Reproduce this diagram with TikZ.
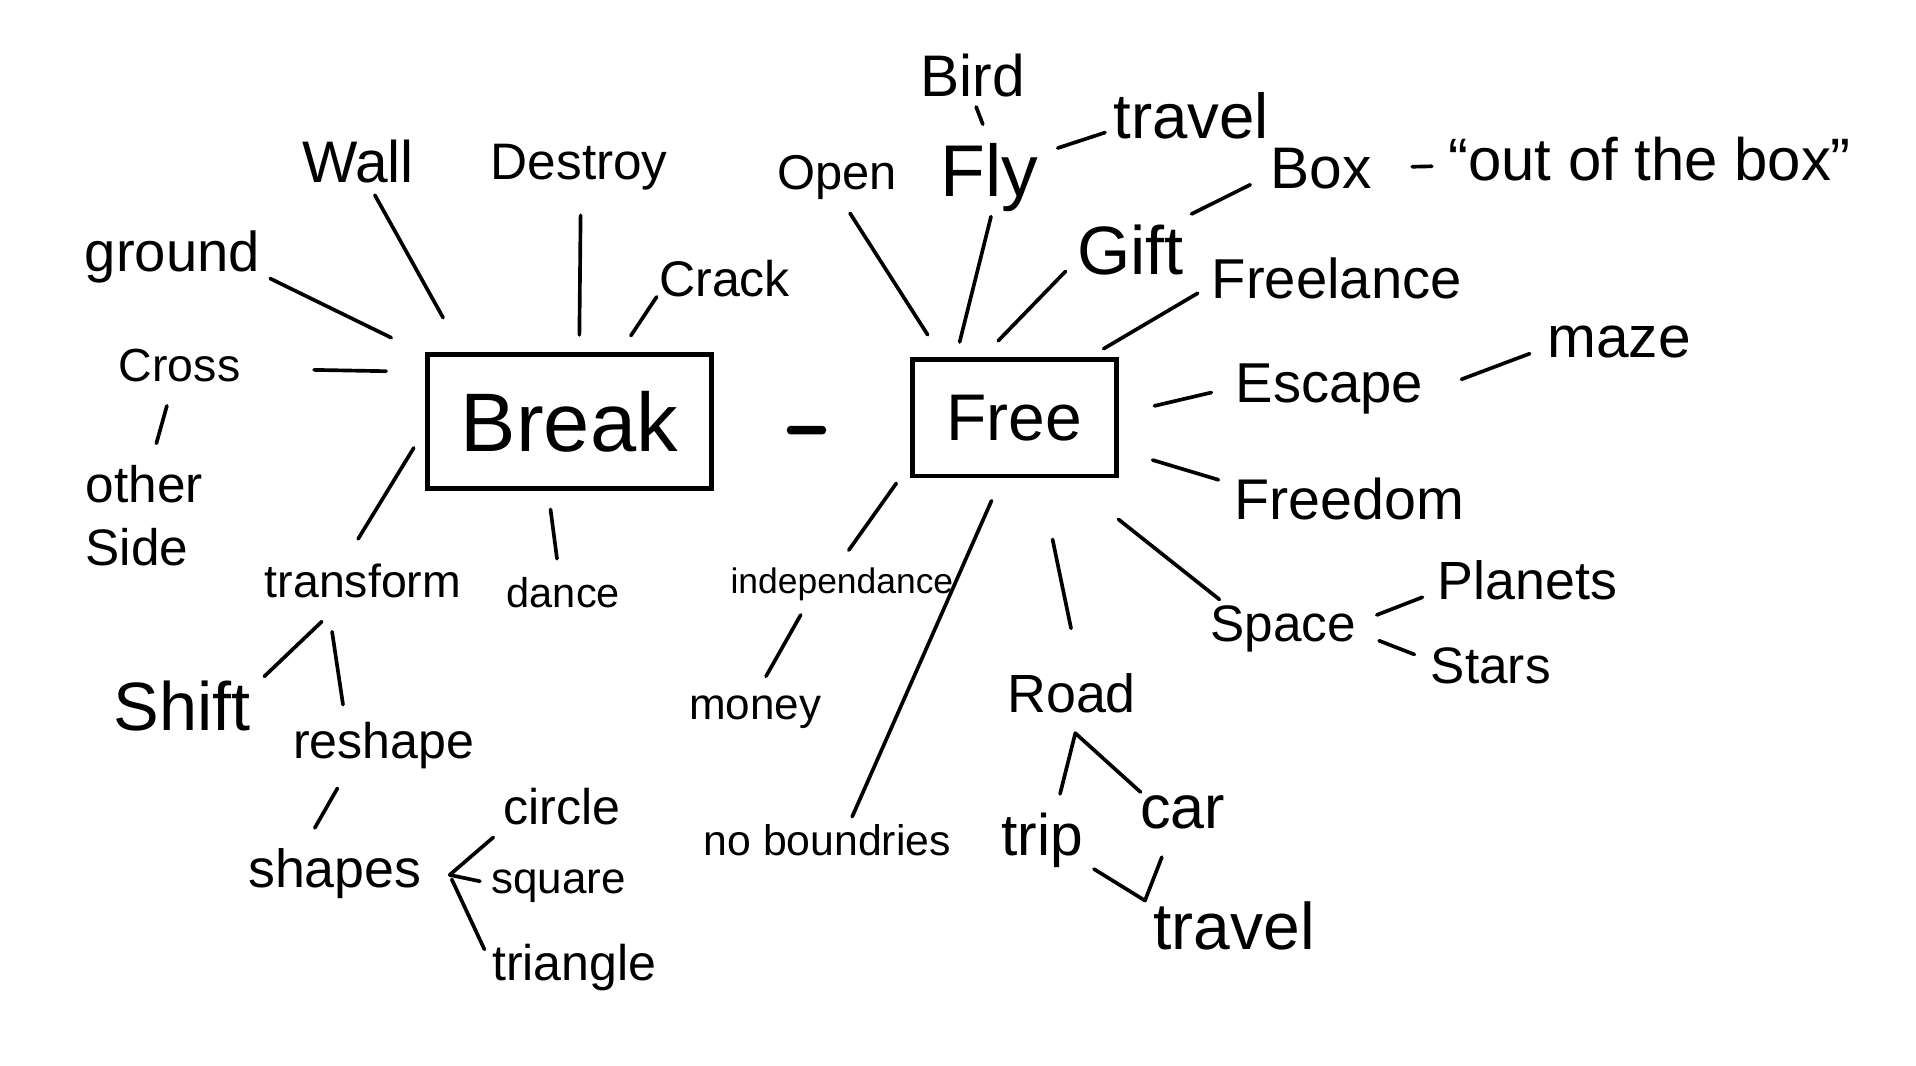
\documentclass[tikz,border=0pt]{standalone}
\usepackage{fontspec}
\setmainfont{Liberation Sans}
\tikzset{
  lbl/.style={inner sep=0pt, font=\fontsize{#1}{#1}\selectfont},
  ln/.style={line width=1.5pt, line cap=round, line join=round},
  bx/.style={draw, line width=2pt, inner sep=0pt},
}
\begin{document}
\begin{tikzpicture}[x=0.5pt,y=-0.5pt]
\fill[white] (0,0) rectangle (1568,872);
\useasboundingbox (0,0) rectangle (1568,872);
% central boxes
\node[bx, minimum width=116pt, minimum height=55pt, font=\fontsize{34}{34}\selectfont] (break) at (466,345) {Break};
\node[bx, minimum width=83.5pt, minimum height=47.5pt, font=\fontsize{27}{27}\selectfont] (free) at (830,342) {Free};
\node[fill=black, rounded corners=1.5pt, minimum width=16pt, minimum height=3.5pt, inner sep=0pt] (dash) at (660,352) {};
% Break side labels
\node[lbl=23] (ground) at (141,210) {ground};
\node[lbl=24] (wall) at (293,132) {Wall};
\node[lbl=21] (destroy) at (474,137) {Destroy};
\node[lbl=20.5] (crack) at (593,228) {Crack};
\node[lbl=19] (cross) at (147,299) {Cross};
\node[inner sep=0pt, align=left, font=\fontsize{21}{26}\selectfont] (other) at (118,422) {other\\Side};
\node[lbl=19] (transform) at (297,475) {transform};
\node[lbl=17] (dance) at (461,485) {dance};
\node[lbl=28] (shift) at (149,578) {Shift};
\node[lbl=20.5] (reshape) at (314,610) {reshape};
\node[lbl=22] (shapes) at (274,715) {shapes};
\node[lbl=20.5] (circle) at (460,660) {circle};
\node[lbl=18] (square) at (457,725) {square};
\node[lbl=20.5] (triangle) at (470,792) {triangle};
% Free side labels
\node[lbl=20] (open) at (685,145) {Open};
\node[lbl=30] (fly) at (810,145) {Fly};
\node[lbl=24] (bird) at (796,62) {Bird};
\node[lbl=26] (travelA) at (975,95) {travel};
\node[lbl=28] (gift) at (925,205) {Gift};
\node[lbl=24] (box) at (1081,138) {Box};
\node[lbl=24.5] (outbox) at (1350,130) {“out of the box”};
\node[lbl=23] (freelance) at (1094,228) {Freelance};
\node[lbl=23] (escape) at (1088,318) {Escape};
\node[lbl=24] (maze) at (1325,280) {maze};
\node[lbl=23.5] (freedom) at (1104,408) {Freedom};
\node[lbl=21] (space) at (1050,515) {Space};
\node[lbl=22] (planets) at (1250,475) {Planets};
\node[lbl=21] (stars) at (1220,545) {Stars};
\node[lbl=22] (road) at (877,567) {Road};
\node[lbl=25] (car) at (968,665) {car};
\node[lbl=24] (trip) at (853,688) {trip};
\node[lbl=27] (travelB) at (1010,758) {travel};
\node[lbl=17.5] (noboundries) at (677,688) {no boundries};
\node[lbl=14.5] (independance) at (689,478) {independance};
\node[lbl=18] (money) at (618,583) {money};
\coordinate (sfork) at (368,716);
\coordinate (rfork) at (880,600);
\coordinate (tfork) at (937,737);
% Break side connectors
\draw[ln, shorten <=4.5pt, shorten >=15.5pt] (ground.-11) -- (break.155);
\draw[ln, shorten <=5.5pt, shorten >=16pt] (wall.-65.6) -- (break.147);
\draw[ln, shorten <=10pt, shorten >=7pt] (destroy.-86) -- (break.82);
\draw[ln, shorten <=1.5pt, shorten >=8pt] (crack.193) -- (break.54.7);
\draw[ln, shorten <=30pt, shorten >=16pt] (cross.-3) -- (break.161);
\draw[ln, shorten <=9pt, shorten >=11.5pt] (break.183) -- (transform.138);
\draw[ln, shorten <=7.5pt, shorten >=7.5pt] (break.253) -- (dance.104);
\draw[ln, shorten <=10pt, shorten >=9pt] (cross.250) -- (other.83);
\draw[ln, shorten <=14pt, shorten >=7.5pt] (transform.227) -- (shift.14);
\draw[ln, shorten <=14pt, shorten >=7pt] (transform.206) -- (reshape.148);
\draw[ln, shorten <=9pt, shorten >=9.5pt] (reshape.214) -- (shapes.141);
\draw[ln, shorten <=7.5pt, shorten >=4.5pt] (circle.199.5) -- (sfork) -- (square.178);
\draw[ln, shorten <=2pt, shorten >=7pt] (sfork) -- (triangle.178.6);
% Free side connectors
\draw[ln, shorten <=6.5pt, shorten >=11pt] (open.-79) -- (free.140);
\draw[ln, shorten <=2pt, shorten >=6.5pt] (fly.-86) -- (free.134);
\draw[ln, shorten <=4pt, shorten >=8pt] (bird.south) -- (fly.north);
\draw[ln, shorten <=8pt, shorten >=3.5pt] (fly.25) -- (travelA.190);
\draw[ln, shorten <=6.5pt, shorten >=9.5pt] (gift.190) -- (free.118);
\draw[ln, shorten <=10pt, shorten >=9pt] (gift.33) -- (box.187);
\draw[ln, shorten <=16.5pt, shorten >=6.5pt] (box.1.5) -- (outbox.182);
\draw[ln, shorten <=7pt, shorten >=6.5pt] (free.39) -- (freelance.183.5);
\draw[ln, shorten <=15pt, shorten >=10pt] (free.2.7) -- (escape.179.4);
\draw[ln, shorten <=16.5pt, shorten >=7.5pt] (escape.-3) -- (maze.184);
\draw[ln, shorten <=14.5pt, shorten >=6.5pt] (free.-17) -- (freedom.173);
\draw[ln, shorten <=27pt, shorten >=4pt] (free.-49.5) -- (space.157);
\draw[ln, shorten <=9pt, shorten >=6.5pt] (space.5) -- (planets.187);
\draw[ln, shorten <=10pt, shorten >=7pt] (space.-2) -- (stars.175);
\draw[ln, shorten <=25.5pt, shorten >=18.5pt] (free.-67) -- (road.67);
\draw[ln, shorten <=10pt, shorten >=3.5pt] (free.-102) -- (noboundries.37.6);
\draw[ln, shorten <=9.5pt, shorten >=8.5pt] (free.204.6) -- (independance.107);
\draw[ln, shorten <=6.5pt, shorten >=9pt] (independance.207) -- (money.90);
\draw[ln, shorten <=8pt, shorten >=2pt] (trip.65) -- (rfork) -- (car.156);
\draw[ln, shorten <=5pt, shorten >=12pt] (trip.-28) -- (tfork) -- (car.239);
\end{tikzpicture}
\end{document}
